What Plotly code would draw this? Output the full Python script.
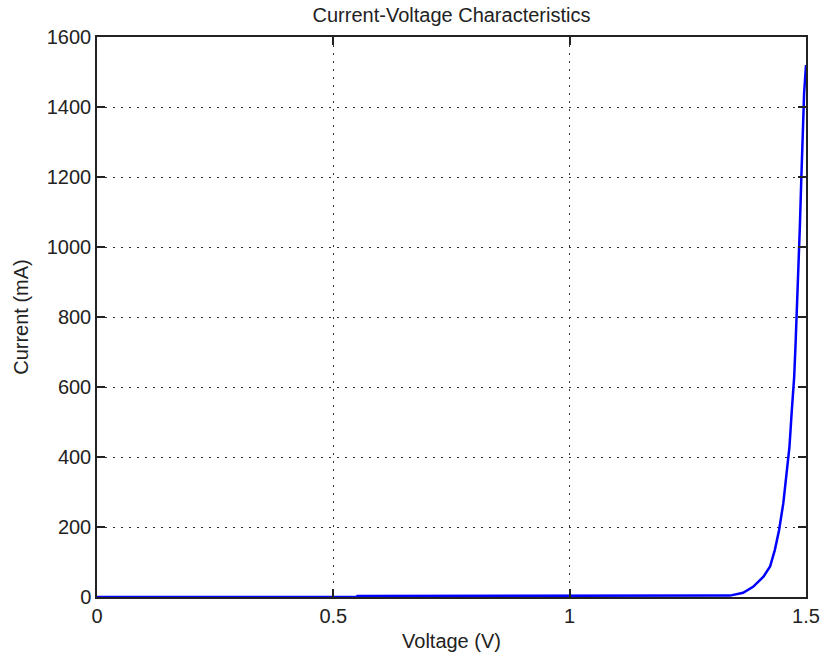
import plotly.graph_objects as go

# Data
voltage = [0.0, 0.55, 0.551, 1.0, 1.339, 1.367, 1.388, 1.41, 1.424, 1.434, 1.443,
           1.452, 1.459, 1.465, 1.47, 1.475, 1.478, 1.481, 1.484, 1.487, 1.49,
           1.493, 1.496, 1.5]
current = [0, 0, 3, 3, 4, 12, 29, 58, 87, 134, 191,
           268, 353, 429, 534, 629, 725, 820, 925, 1058, 1191,
           1315, 1439, 1520]

x_ticks = [0, 0.5, 1, 1.5]
x_tick_labels = ["0", "0.5", "1", "1.5"]
y_ticks = [0, 200, 400, 600, 800, 1000, 1200, 1400, 1600]
y_tick_labels = [str(v) for v in y_ticks]

FONT = "Liberation Sans, Arial, Helvetica, sans-serif"

fig = go.Figure()
fig.add_trace(go.Scatter(
    x=voltage, y=current, mode="lines",
    line=dict(color="#0000FF", width=2.5),
    showlegend=False,
))

axis_common = dict(
    showline=True, linecolor="#222222", linewidth=1.5, mirror="ticks",
    ticks="inside", ticklen=8, tickcolor="#222222", tickwidth=1.5,
    showgrid=True, gridcolor="#333333", gridwidth=1, griddash="2px,6px",
    zeroline=False,
    tickfont=dict(family=FONT, size=20, color="#222222"),
)

fig.update_xaxes(
    range=[0, 1.5], tickvals=x_ticks, ticktext=x_tick_labels,
    title=dict(text="Voltage (V)", font=dict(family=FONT, size=20, color="#222222"), standoff=8),
    **axis_common,
)
fig.update_yaxes(
    range=[0, 1600], tickvals=y_ticks, ticktext=y_tick_labels,
    title=dict(text="Current (mA)", font=dict(family=FONT, size=20, color="#222222"), standoff=13),
    **axis_common,
)

fig.update_layout(
    width=820, height=660,
    margin=dict(l=97, r=14, t=37, b=63, autoexpand=False),
    paper_bgcolor="white", plot_bgcolor="white",
    title=dict(text="Current-Voltage Characteristics", x=(97 + 806) / 2 / 820, xanchor="center",
               y=1 - 15 / 660, yanchor="middle",
               font=dict(family=FONT, size=20, color="#222222")),
)

fig.write_html("out.html", config={"displayModeBar": False},
               post_script="document.body.style.margin='0';document.body.style.padding='0';")
